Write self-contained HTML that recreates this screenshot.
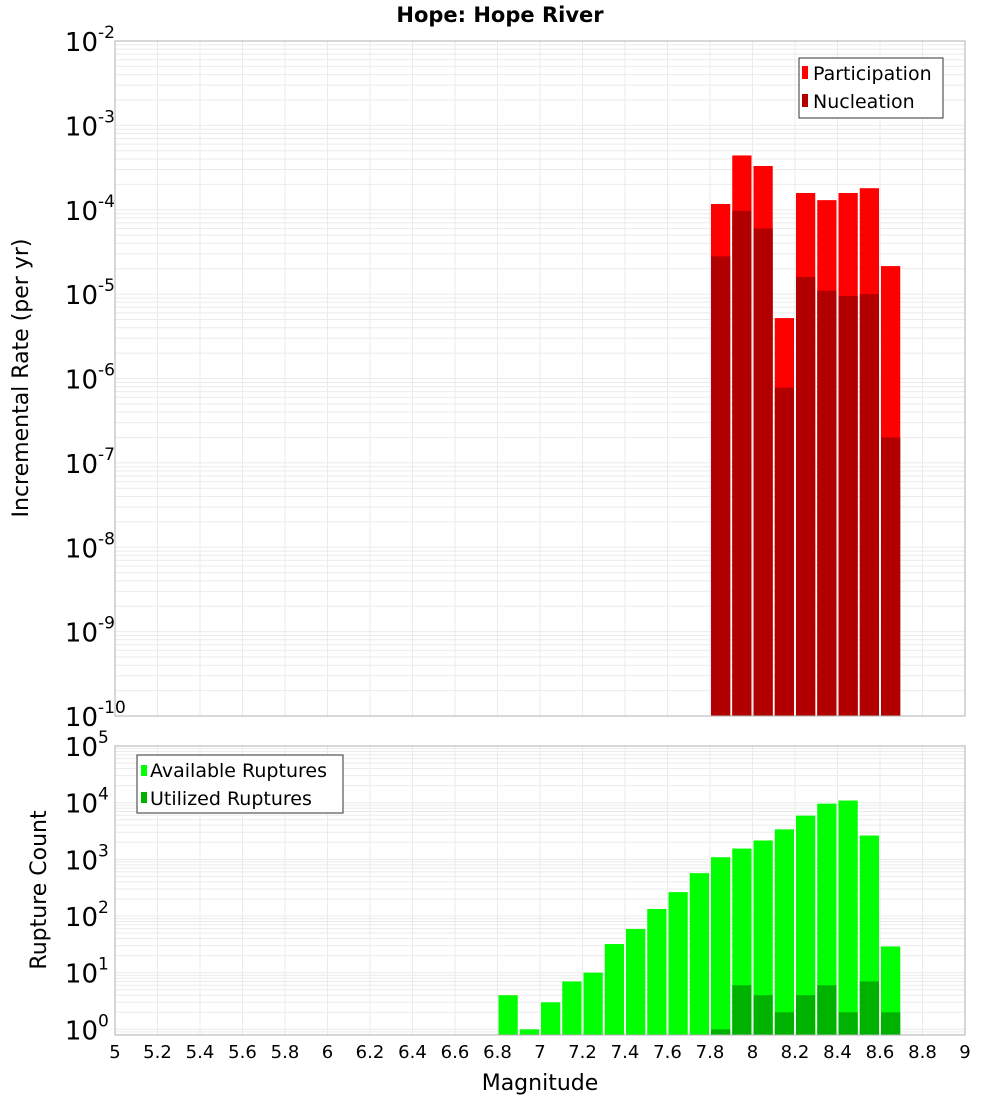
<!DOCTYPE html>
<html><head><meta charset="utf-8"><style>
body{margin:0;background:#fff;}
svg text{font-family:"DejaVu Sans","Liberation Sans",sans-serif;}
</style></head><body>
<svg id="chart" width="1000" height="1100" xmlns="http://www.w3.org/2000/svg">
<text x="500" y="22" text-anchor="middle" font-size="21" font-weight="bold">Hope: Hope River</text>
<text transform="translate(28,378) rotate(-90)" text-anchor="middle" font-size="22">Incremental Rate (per yr)</text>
<text transform="translate(46,890) rotate(-90)" text-anchor="middle" font-size="22">Rupture Count</text>
<text x="540" y="1090" text-anchor="middle" font-size="22">Magnitude</text>
<g id="top"></g><g id="bot"></g><g id="xt"></g>
</svg>
<script>
const bins = [6.85,6.95,7.05,7.15,7.25,7.35,7.45,7.55,7.65,7.75,7.85,7.95,8.05,8.15,8.25,8.35,8.45,8.55,8.65];
const partMags = [7.85,7.95,8.05,8.15,8.25,8.35,8.45,8.55,8.65];
const participation = [1.17e-4,4.4e-4,3.3e-4,5.2e-6,1.58e-4,1.3e-4,1.58e-4,1.8e-4,2.15e-5];
const nucleation = [2.8e-5,9.7e-5,6.0e-5,7.8e-7,1.6e-5,1.1e-5,9.5e-6,1.0e-5,2.0e-7];
const available = [4,1,3,7,10,32,59,133,264,570,1090,1550,2150,3380,5900,9600,10900,2630,29];
const utilMags = [7.85,7.95,8.05,8.15,8.25,8.35,8.45,8.55,8.65];
const utilized = [1,6,4,2,4,6,2,7,2];
const xTicks = [5,5.2,5.4,5.6,5.8,6,6.2,6.4,6.6,6.8,7,7.2,7.4,7.6,7.8,8,8.2,8.4,8.6,8.8,9];
const topExps = [-2,-3,-4,-5,-6,-7,-8,-9,-10];
const botExps = [5,4,3,2,1,0];

const NS="http://www.w3.org/2000/svg";
const X0=115,X1=965;
const xs=m=>X0+(m-5)/4*(X1-X0);
function mk(p,t,a){const e=document.createElementNS(NS,t);for(const k in a)e.setAttribute(k,a[k]);p.appendChild(e);return e;}
function panel(g,y0,y1,lmin,lmax,name){
  const ys=v=>y1-(Math.log10(v)-lmin)/(lmax-lmin)*(y1-y0);
  mk(g,'rect',{x:X0,y:y0,width:X1-X0,height:y1-y0,fill:'#fff'});
  for(let d=Math.floor(lmin);d<lmax;d++){for(let k=1;k<10;k++){const v=Math.pow(10,d)*k;const y=ys(v);if(y<y0||y>y1)continue;
    const l=mk(g,'line',{x1:X0,x2:X1,y1:y,y2:y,stroke:'#ebebeb','stroke-width':1});
    
    }}
  xTicks.forEach(t=>{const x=xs(t);const l=mk(g,'line',{x1:x,x2:x,y1:y0,y2:y1,stroke:'#ebebeb','stroke-width':1});
    
    });
  return ys;
}
function bars(g,mags,vals,ys,yb,color,name){
  mags.forEach((m,i)=>{const xl=xs(m-0.05)+1,xr=xs(m+0.05)-1;const y=ys(vals[i]);
    const r=mk(g,'rect',{x:xl,y:y,width:xr-xl,height:yb-y,fill:color});
    
    });
}
function frame(g,y0,y1){mk(g,'rect',{x:X0,y:y0,width:X1-X0,height:y1-y0,fill:'none',stroke:'#b0b0b0','stroke-width':1});}
function ylabel(g,exp,y,name){
  const t=mk(g,'text',{x:108,y:y+10,'text-anchor':'end','font-size':26});
  
  
  t.textContent='10';
  const s=mk(g,'text',{x:98,y:y-3,'font-size':17});
  
  
  s.textContent=String(exp);
  t.setAttribute('x',98);
}
// top
const gt=document.getElementById('top');
const T0=41,T1=716;
const ysT=panel(gt,T0,T1,-10,-2,'top');
bars(gt,partMags,participation,ysT,T1,'#ff0000','participation');
bars(gt,partMags,nucleation,ysT,T1,'#b20000','nucleation');
frame(gt,T0,T1);
topExps.forEach(e=>ylabel(gt,e,ysT(Math.pow(10,e)),'top-y-tick-label'));
// top legend
(function(){const lg=mk(gt,'g',{});
 mk(lg,'rect',{x:799,y:58,width:144,height:60,fill:'#fff',stroke:'#333','stroke-width':1});
 mk(lg,'rect',{x:802,y:66,width:6,height:13,fill:'#ff0000'});
 mk(lg,'rect',{x:802,y:94,width:6,height:13,fill:'#b20000'});
 const a=mk(lg,'text',{x:813,y:80,'font-size':19});a.textContent='Participation';
 const b=mk(lg,'text',{x:813,y:108,'font-size':19});b.textContent='Nucleation';})();
// bottom
const gb=document.getElementById('bot');
const B0=746,B1=1035;
const ysB=panel(gb,B0,B1,-0.1,5,'bottom');
bars(gb,bins,available,ysB,B1,'#00ff00','available');
bars(gb,utilMags,utilized,ysB,B1,'#00b200','utilized');
frame(gb,B0,B1);
botExps.forEach(e=>ylabel(gb,e,ysB(Math.pow(10,e)),'bottom-y-tick-label'));
(function(){const lg=mk(gb,'g',{});
 mk(lg,'rect',{x:137,y:755,width:206,height:58,fill:'#fff',stroke:'#333','stroke-width':1});
 mk(lg,'rect',{x:141,y:765,width:6,height:11,fill:'#00ff00'});
 mk(lg,'rect',{x:141,y:792,width:6,height:11,fill:'#00b200'});
 const a=mk(lg,'text',{x:150,y:777,'font-size':19});a.textContent='Available Ruptures';
 const b=mk(lg,'text',{x:150,y:805,'font-size':19});b.textContent='Utilized Ruptures';})();
// x ticks
const gx=document.getElementById('xt');
xTicks.forEach(t=>{const e=mk(gx,'text',{x:xs(t),y:1058,'text-anchor':'middle','font-size':18});
 
 
 e.textContent=String(t);});
</script>
</body></html>
